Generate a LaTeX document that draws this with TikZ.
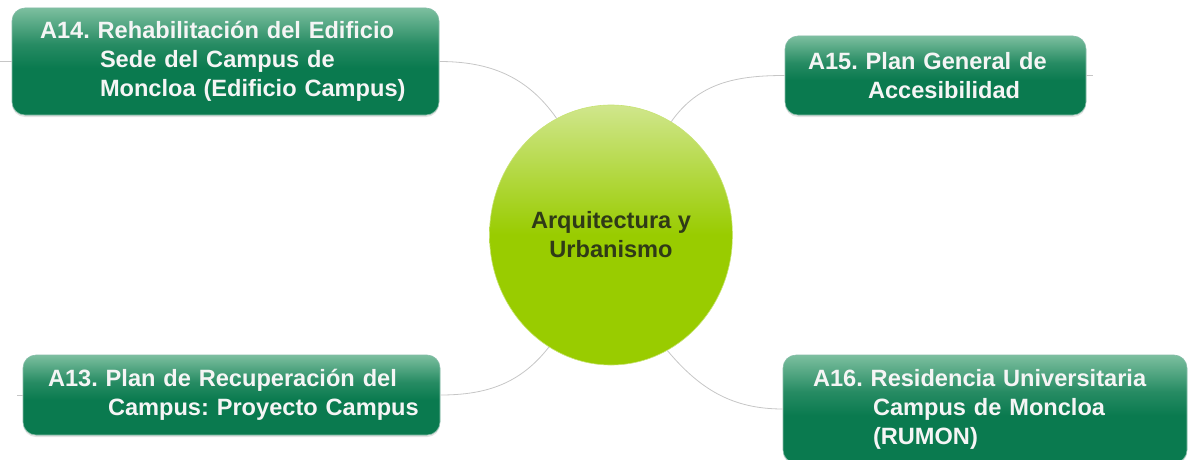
\documentclass[tikz,border=0pt]{standalone}
\usepackage{fontspec}
\setmainfont{Liberation Sans}
\usetikzlibrary{shapes.geometric,shadows}
\definecolor{boxtop}{HTML}{7CBF9F}
\definecolor{boxdark}{HTML}{0A7A4F}
\definecolor{elltop}{HTML}{D0E68C}
\definecolor{ellbot}{HTML}{99CC00}
\definecolor{linkgray}{HTML}{C6C6C6}
\definecolor{elltext}{HTML}{2F3A17}
\pgfdeclareverticalshading{topicshade}{100bp}{color(0bp)=(boxdark); color(25bp)=(boxdark); color(47bp)=(boxdark); color(58bp)=(boxdark!75!boxtop); color(75bp)=(boxtop); color(100bp)=(boxtop)}
\pgfdeclareverticalshading{hubshade}{100bp}{color(0bp)=(ellbot); color(25bp)=(ellbot); color(50bp)=(ellbot); color(75bp)=(elltop); color(100bp)=(elltop)}
\begin{document}
\frenchspacing
\begin{tikzpicture}[x=1pt,y=1pt,
  topic/.style={rectangle, rounded corners=13pt, shading=topicshade,
    draw=boxdark!50!white, line width=0.6pt,
    text=white!96!black, font=\bfseries\fontsize{23.6}{29}\selectfont,
    align=left, inner ysep=0pt,
    drop shadow={shadow xshift=0pt, shadow yshift=-2pt, opacity=0.22}},
  hubstyle/.style={ellipse, inner sep=0pt, shading=hubshade,
    draw=ellbot!55!white, line width=0.6pt,
    text=elltext, font=\bfseries\fontsize{23.6}{29}\selectfont, align=center},
  link/.style={draw=linkgray, line width=0.8pt}]
\useasboundingbox (0,0) rectangle (1188,-460);

\node[hubstyle, minimum width=243pt, minimum height=260pt] (hub) at (611,-235)
  {Arquitectura y\\Urbanismo};

\node[topic, minimum width=427pt, minimum height=107pt, text width=371pt, inner xsep=28pt]
  (a14) at (225.5,-61.5)
  {\mbox{A14. Rehabilitación del Edificio}\\\mbox{\hspace*{60pt}Sede del Campus de}\\\mbox{\hspace*{60pt}Moncloa (Edificio Campus)}};

\node[topic, minimum width=301pt, minimum height=79pt, text width=255pt, inner xsep=23pt]
  (a15) at (935.5,-75.5)
  {\mbox{A15. Plan General de}\\\mbox{\hspace*{60pt}Accesibilidad}};

\node[topic, minimum width=417pt, minimum height=80pt, text width=367pt, inner xsep=25pt]
  (a13) at (231.5,-395)
  {\mbox{A13. Plan de Recuperación del}\\\mbox{\hspace*{60pt}Campus: Proyecto Campus}};

\node[topic, minimum width=404pt, minimum height=108pt, text width=344pt, inner xsep=30pt]
  (a16) at (985,-409)
  {\mbox{A16. Residencia Universitaria}\\\mbox{\hspace*{60pt}Campus de Moncloa}\\\mbox{\hspace*{60pt}(RUMON)}};

\coordinate (s14) at (0,-61.5);
\coordinate (s15) at (1093,-75.5);
\coordinate (s13) at (17,-395);

\draw[link] (a14.east) to[out=0, in=125] (hub.115.6);
\draw[link] (a15.west) to[out=180, in=55] (hub.62.5);
\draw[link] (a13.east) to[out=0, in=232] (hub.241.6);
\draw[link] (a16.west) to[out=180, in=310] (hub.296);
\draw[link] (s14) -- (a14.west);
\draw[link] (a15.east) -- (s15);
\draw[link] (s13) -- (a13.west);
\end{tikzpicture}
\end{document}
